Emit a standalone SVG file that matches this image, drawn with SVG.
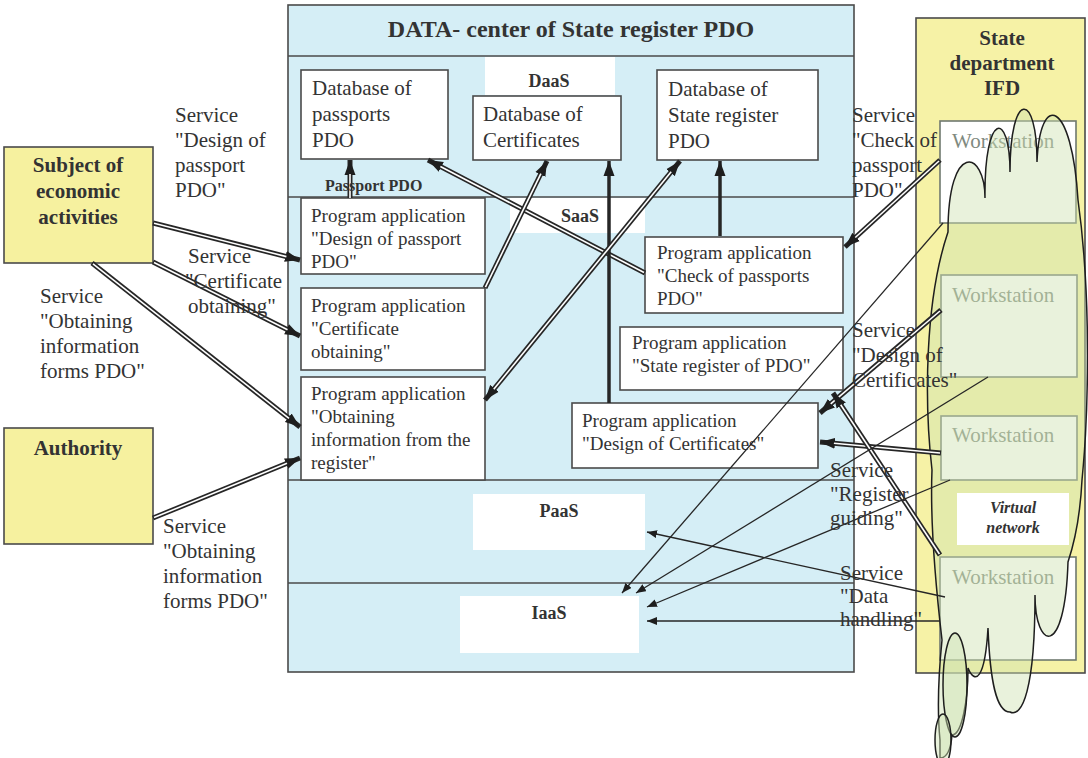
<svg xmlns="http://www.w3.org/2000/svg" width="1088" height="758" viewBox="0 0 1088 758">
<defs>
<style>
.t{font-family:"Liberation Serif","Times New Roman",serif;fill:#333}
.b{font-weight:bold}
.box{fill:#fff;stroke:#4a4a4a;stroke-width:1.6}
.ybox{fill:#f6f19f;stroke:#4a4a4a;stroke-width:1.6}
.ws{fill:#fff;stroke:#6f786f;stroke-width:1.6}
.wst{font-family:"Liberation Serif","Times New Roman",serif;font-size:21px;fill:#7f8a80}
.dk{stroke:#262626;stroke-width:5;fill:none}
.sol{stroke:#262626;stroke-width:3.5;fill:none}
.wh{stroke:#fff;stroke-width:1.6;fill:none}
.thin{stroke:#262626;stroke-width:1.3;fill:none;marker-end:url(#ta)}
.lbl{font-family:"Liberation Serif","Times New Roman",serif;font-size:21px;fill:#333}
</style>
<marker id="da" markerUnits="userSpaceOnUse" markerWidth="16" markerHeight="12" refX="15" refY="6" orient="auto"><path d="M0,0.5 L15,6 L0,11.5 z" fill="#1e1e1e"/></marker>
<marker id="ds" markerUnits="userSpaceOnUse" markerWidth="16" markerHeight="12" refX="15" refY="6" orient="auto-start-reverse"><path d="M0,0.5 L15,6 L0,11.5 z" fill="#1e1e1e"/></marker>
<marker id="ta" markerUnits="userSpaceOnUse" markerWidth="11" markerHeight="9" refX="10" refY="4" orient="auto"><path d="M0,0 L10,4 L0,8 z" fill="#1e1e1e"/></marker>
</defs>
<rect width="1088" height="758" fill="#fff"/>

<g id="datacenter">
<rect x="288" y="5" width="566" height="667" fill="#d5eef6" stroke="#4a4a4a" stroke-width="1.6"/>
<line x1="288" y1="56" x2="854" y2="56" stroke="#4a4a4a" stroke-width="1.6"/>
<line x1="288" y1="197" x2="854" y2="197" stroke="#4a4a4a" stroke-width="1.6"/>
<line x1="288" y1="480" x2="854" y2="480" stroke="#4a4a4a" stroke-width="1.6"/>
<line x1="288" y1="583" x2="854" y2="583" stroke="#4a4a4a" stroke-width="1.6"/>
<text class="t b" x="571" y="37" font-size="24" text-anchor="middle">DATA- center of State register PDO</text>
</g>

<g id="daas"><rect x="485" y="57" width="130" height="38" fill="#fff"/><text class="t b" x="549" y="87" font-size="18" text-anchor="middle">DaaS</text></g>
<g id="saas"><rect x="510" y="198" width="135" height="35" fill="#fff"/><text class="t b" x="580" y="222" font-size="18" text-anchor="middle">SaaS</text></g>
<g id="paas"><rect x="473" y="494" width="172" height="56" fill="#fff"/><text class="t b" x="559" y="517" font-size="18" text-anchor="middle">PaaS</text></g>
<g id="iaas"><rect x="460" y="596" width="179" height="57" fill="#fff"/><text class="t b" x="549" y="619" font-size="18" text-anchor="middle">IaaS</text></g>

<g id="db-passports"><rect class="box" x="301" y="70" width="147" height="89"/><text class="t" font-size="21" x="312" y="95">Database of<tspan x="312" dy="26">passports</tspan><tspan x="312" dy="26">PDO</tspan></text></g>
<g id="db-certificates"><rect class="box" x="473" y="96" width="148" height="64"/><text class="t" font-size="21" x="483" y="121">Database of<tspan x="483" dy="26">Certificates</tspan></text></g>
<g id="db-register"><rect class="box" x="657" y="70" width="161" height="90"/><text class="t" font-size="21" x="668" y="96">Database of<tspan x="668" dy="26">State register</tspan><tspan x="668" dy="26">PDO</tspan></text></g>

<g id="app-design-passport"><rect class="box" x="301" y="198" width="184" height="76"/><text class="t" font-size="19" x="311" y="222">Program application<tspan x="311" dy="23">"Design of passport</tspan><tspan x="311" dy="23">PDO"</tspan></text></g>
<g id="app-cert-obtaining"><rect class="box" x="301" y="288" width="184" height="82"/><text class="t" font-size="19" x="311" y="312">Program application<tspan x="311" dy="23">"Certificate</tspan><tspan x="311" dy="23">obtaining"</tspan></text></g>
<g id="app-obtaining-info"><rect class="box" x="301" y="377" width="184" height="103"/><text class="t" font-size="19" x="311" y="400">Program application<tspan x="311" dy="23">"Obtaining</tspan><tspan x="311" dy="23">information from the</tspan><tspan x="311" dy="23">register"</tspan></text></g>
<g id="app-check-passports"><rect class="box" x="645" y="237" width="198" height="76"/><text class="t" font-size="19" x="657" y="259">Program application<tspan x="657" dy="23">"Check of passports</tspan><tspan x="657" dy="23">PDO"</tspan></text></g>
<g id="app-state-register"><rect class="box" x="620" y="327" width="223" height="63"/><text class="t" font-size="19" x="632" y="349">Program application<tspan x="632" dy="23">"State register of PDO"</tspan></text></g>
<g id="app-design-cert"><rect class="box" x="572" y="403" width="246" height="65"/><text class="t" font-size="19" x="582" y="427">Program application<tspan x="582" dy="23">"Design of Certificates"</tspan></text></g>

<g id="subject"><rect class="ybox" x="4" y="147" width="149" height="116"/><text class="t b" font-size="21" text-anchor="middle" x="78" y="172">Subject of<tspan x="78" dy="26">economic</tspan><tspan x="78" dy="26">activities</tspan></text></g>
<g id="authority"><rect class="ybox" x="4" y="428" width="149" height="116"/><text class="t b" font-size="21" text-anchor="middle" x="78" y="455">Authority</text></g>

<g id="state-department"><rect x="916" y="18" width="169" height="655" fill="#f6f2a6" stroke="#4a4a4a" stroke-width="1.6"/><text class="t b" font-size="21" text-anchor="middle" x="1002" y="45">State<tspan x="1002" dy="25">department</tspan><tspan x="1002" dy="25">IFD</tspan></text></g>

<g id="workstation-1"><rect class="ws" x="940" y="121" width="136" height="102"/><text class="wst" x="952" y="148">Workstation</text></g>
<g id="workstation-2"><rect class="ws" x="941" y="275" width="136" height="102"/><text class="wst" x="952" y="302">Workstation</text></g>
<g id="workstation-3"><rect class="ws" x="941" y="416" width="136" height="64"/><text class="wst" x="952" y="442">Workstation</text></g>
<g id="workstation-4"><rect class="ws" x="940" y="557" width="136" height="103"/><text class="wst" x="952" y="584">Workstation</text></g>

<g id="cloud" fill="#cfe3b2" fill-opacity="0.45" stroke="#1e1e1e" stroke-width="1.5">
<path d="M948 232 C948 140 985 150 985 198 C984 110 1010 110 1010 172 C1010 90 1037 90 1037 162 C1040 90 1072 100 1078 200 C1092 300 1088 420 1082 480 C1080 520 1072 550 1068 562 C1065 660 1035 650 1035 595 C1035 690 1022 718 1010 712 C996 712 990 680 988 628 C985 680 975 685 968 668 C968 700 962 735 952 735 C950 758 942 758 940 758 L940 740 C936 700 940 660 942 640 C935 580 930 520 932 470 C924 400 925 300 948 232 Z"/>
<ellipse cx="955" cy="685" rx="12" ry="52"/>
<ellipse cx="943" cy="740" rx="8" ry="26"/>
</g>

<g id="virtual-network"><rect x="957" y="493" width="112" height="52" fill="#fff"/><text class="t b" font-size="16" font-style="italic" text-anchor="middle" x="1013" y="513">Virtual<tspan x="1013" dy="20">network</tspan></text></g>

<g id="connectors">
<line class="dk" x1="153" y1="223" x2="300" y2="260" marker-end="url(#da)"/><line class="wh" x1="154" y1="223.3" x2="286.4" y2="256.6"/>
<line class="dk" x1="153" y1="262" x2="300" y2="336" marker-end="url(#da)"/><line class="wh" x1="154" y1="262.5" x2="287.5" y2="329.7"/>
<line class="dk" x1="92" y1="263" x2="300" y2="427" marker-end="url(#da)"/><line class="wh" x1="93" y1="263.8" x2="289" y2="418.3"/>
<line class="dk" x1="153" y1="518" x2="300" y2="458" marker-end="url(#da)"/><line class="wh" x1="154" y1="517.6" x2="287" y2="463.3"/>
<line class="dk" x1="350" y1="198" x2="350" y2="160" marker-end="url(#da)"/><line class="wh" x1="350" y1="198" x2="350" y2="174"/>
<line class="dk" x1="645" y1="273" x2="428" y2="160" marker-end="url(#da)"/><line class="wh" x1="644" y1="272.5" x2="440.4" y2="166.5"/>
<line class="dk" x1="485" y1="288" x2="547" y2="161" marker-end="url(#da)"/><line class="wh" x1="485.4" y1="287.1" x2="540.9" y2="173.6"/>
<line class="sol" x1="609" y1="403" x2="609" y2="161" marker-end="url(#da)"/>
<line class="dk" x1="485" y1="400" x2="680" y2="161" marker-start="url(#ds)" marker-end="url(#da)"/><line class="wh" x1="493.8" y1="389.2" x2="671.2" y2="171.8"/>
<line class="sol" x1="720" y1="236" x2="720" y2="161" marker-end="url(#da)"/>
<line class="dk" x1="940" y1="160" x2="845" y2="247" marker-end="url(#da)"/><line class="wh" x1="939" y1="161" x2="855.3" y2="237.5"/>
<line class="dk" x1="941" y1="310" x2="820" y2="413" marker-end="url(#da)"/><line class="wh" x1="940" y1="311" x2="830.7" y2="403.9"/>
<line class="dk" x1="941" y1="453" x2="820" y2="442" marker-end="url(#da)"/><line class="wh" x1="940" y1="453" x2="833.9" y2="443.3"/>
<line class="dk" x1="940" y1="555" x2="833" y2="393" marker-end="url(#da)"/><line class="wh" x1="939.4" y1="554" x2="840.7" y2="404.7"/>
<line class="thin" x1="943" y1="223" x2="622" y2="593"/>
<line class="thin" x1="988" y1="377" x2="636" y2="593"/>
<line class="thin" x1="950" y1="480" x2="647" y2="607"/>
<line class="thin" x1="940" y1="621" x2="647" y2="621"/>
<line class="thin" x1="945" y1="597" x2="647" y2="532"/>
</g>

<g id="labels">
<text class="t b" font-size="16" x="325" y="191">Passport PDO</text>
<text class="lbl" x="175" y="122">Service<tspan x="175" dy="25">"Design of</tspan><tspan x="175" dy="25">passport</tspan><tspan x="175" dy="25">PDO"</tspan></text>
<text class="lbl" x="188" y="263">Service<tspan x="185" dy="25">"Certificate</tspan><tspan x="188" dy="25">obtaining"</tspan></text>
<text class="lbl" x="40" y="303">Service<tspan x="40" dy="25">"Obtaining</tspan><tspan x="40" dy="25">information</tspan><tspan x="40" dy="25">forms PDO"</tspan></text>
<text class="lbl" x="163" y="533">Service<tspan x="163" dy="25">"Obtaining</tspan><tspan x="163" dy="25">information</tspan><tspan x="163" dy="25">forms PDO"</tspan></text>
<text class="lbl" x="852" y="122">Service<tspan x="852" dy="25">"Check of</tspan><tspan x="852" dy="25">passport</tspan><tspan x="852" dy="25">PDO"</tspan></text>
<text class="lbl" x="852" y="337">Service<tspan x="852" dy="25">"Design of</tspan><tspan x="852" dy="25">Certificates"</tspan></text>
<text class="lbl" x="830" y="477">Service<tspan x="830" dy="24">"Register</tspan><tspan x="830" dy="24">guiding"</tspan></text>
<text class="lbl" x="840" y="580">Service<tspan x="840" dy="23">"Data</tspan><tspan x="840" dy="23">handling"</tspan></text>
</g>
</svg>
